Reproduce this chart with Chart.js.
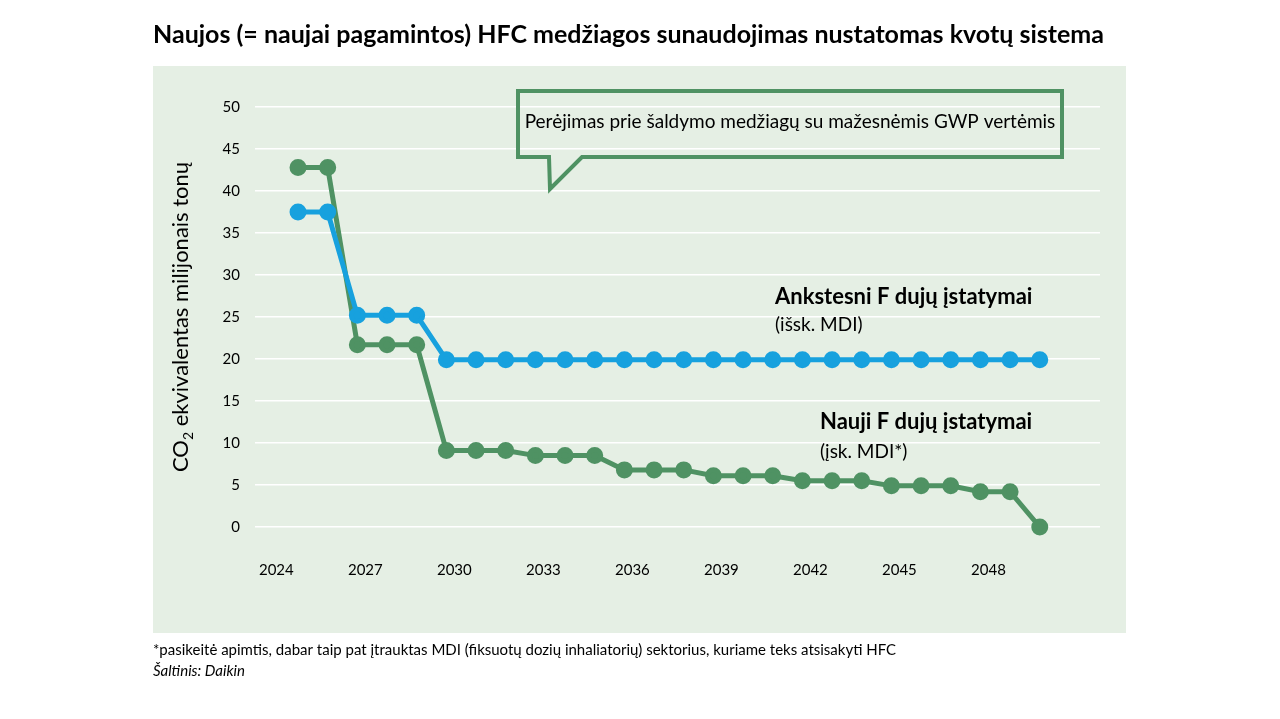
<!DOCTYPE html>
<html><head><meta charset="utf-8">
<script src="https://cdn.jsdelivr.net/npm/chart.js@4/dist/chart.umd.min.js"></script>
<style>html,body{margin:0;background:#fff}#w{width:1280px;height:719px}</style>
</head><body><div id="w"><canvas id="c"></canvas></div>
<script>
const years = [2025,2026,2027,2028,2029,2030,2031,2032,2033,2034,2035,2036,2037,2038,2039,2040,2041,2042,2043,2044,2045,2046,2047,2048,2049,2050];
const previousLaw = [37.5,37.5,25.2,25.2,25.2,19.9,19.9,19.9,19.9,19.9,19.9,19.9,19.9,19.9,19.9,19.9,19.9,19.9,19.9,19.9,19.9,19.9,19.9,19.9,19.9,19.9];
const newLaw = [42.8,42.8,21.7,21.7,21.7,9.1,9.1,9.1,8.5,8.5,8.5,6.8,6.8,6.8,6.1,6.1,6.1,5.5,5.5,5.5,4.9,4.9,4.9,4.2,4.2,0];
const xTicks = [2024,2027,2030,2033,2036,2039,2042,2045,2048];
const BLUE='#17a1de', GREEN='#4f9263', FONT='Lato, "Open Sans", sans-serif';

const deco = {
  id:'deco',
  beforeDraw(ch){const c=ch.ctx;c.save();c.fillStyle='#e5efe4';c.fillRect(153,66,973,567);c.restore();},
  afterDraw(ch){
    const c=ch.ctx;c.save();
    c.fillStyle='#000';c.textBaseline='middle';
    c.font='bold 25px '+FONT;c.fillText('Naujos (= naujai pagamintos) HFC medžiagos sunaudojimas nustatomas kvotų sistema',153,35);
    c.font='15px '+FONT;c.fillText('*pasikeitė apimtis, dabar taip pat įtrauktas MDI (fiksuotų dozių inhaliatorių) sektorius, kuriame teks atsisakyti HFC',153,650);
    c.font='italic 15px '+FONT;c.fillText('Šaltinis: Daikin',153,671);
    c.save();c.translate(181,317);c.rotate(-Math.PI/2);
    c.font='22px '+FONT;const t1='CO',t3=' ekvivalentas milijonais tonų';
    const w1=c.measureText(t1).width;c.font='14px '+FONT;const w2=c.measureText('2').width;c.font='22px '+FONT;const w3=c.measureText(t3).width;
    let x=-(w1+w2+w3)/2;c.textAlign='left';c.fillText(t1,x,0);x+=w1;c.font='14px '+FONT;c.fillText('2',x,7);x+=w2;c.font='22px '+FONT;c.fillText(t3,x,0);
    c.restore();
    c.font='bold 22px '+FONT;c.fillText('Ankstesni F dujų įstatymai',775,297);
    c.font='19px '+FONT;c.fillText('(išsk. MDI)',775,325);
    c.font='bold 22px '+FONT;c.fillText('Nauji F dujų įstatymai',820,422);
    c.font='19px '+FONT;c.fillText('(įsk. MDI*)',820,452);
    c.strokeStyle=GREEN;c.lineWidth=4;c.lineJoin='miter';
    c.beginPath();c.moveTo(518,91);c.lineTo(1062,91);c.lineTo(1062,157);c.lineTo(582,157);c.lineTo(550,189);c.lineTo(549,157);c.lineTo(518,157);c.closePath();c.stroke();
    c.font='19px '+FONT;c.textAlign='center';c.fillText('Perėjimas prie šaldymo medžiagų su mažesnėmis GWP vertėmis',790,122);
    c.restore();
  }
};
new Chart(document.getElementById('c'),{
  type:'line',
  data:{datasets:[
    {data:years.map((y,i)=>({x:y,y:previousLaw[i]})),borderColor:BLUE,backgroundColor:BLUE,borderWidth:5,pointRadius:6,pointHoverRadius:6,clip:false},
    {data:years.map((y,i)=>({x:y,y:newLaw[i]})),borderColor:GREEN,backgroundColor:GREEN,borderWidth:5,pointRadius:6,pointHoverRadius:6,clip:false}
  ]},
  options:{responsive:true,maintainAspectRatio:false,animation:false,
    layout:{padding:{left:155,right:180,top:107,bottom:132}},
    plugins:{legend:{display:false},tooltip:{enabled:false}},
    scales:{
      x:{type:'linear',min:2023.55,max:2052.03,afterFit(s){s.height=60;},
        afterBuildTicks(s){s.ticks=xTicks.map(v=>({value:v}));},
        grid:{display:false},border:{display:false},
        ticks:{color:'#000',font:{family:FONT,size:15},labelOffset:8,padding:26,maxRotation:0,callback:v=>String(v)}},
      y:{min:0,max:50,afterFit(s){s.width=100;},
        grid:{color:'#ffffff',lineWidth:1.5,drawTicks:false},border:{display:false},
        ticks:{stepSize:5,color:'#000',font:{family:FONT,size:15},padding:15}}
    }},
  plugins:[deco]
});
</script></body></html>
